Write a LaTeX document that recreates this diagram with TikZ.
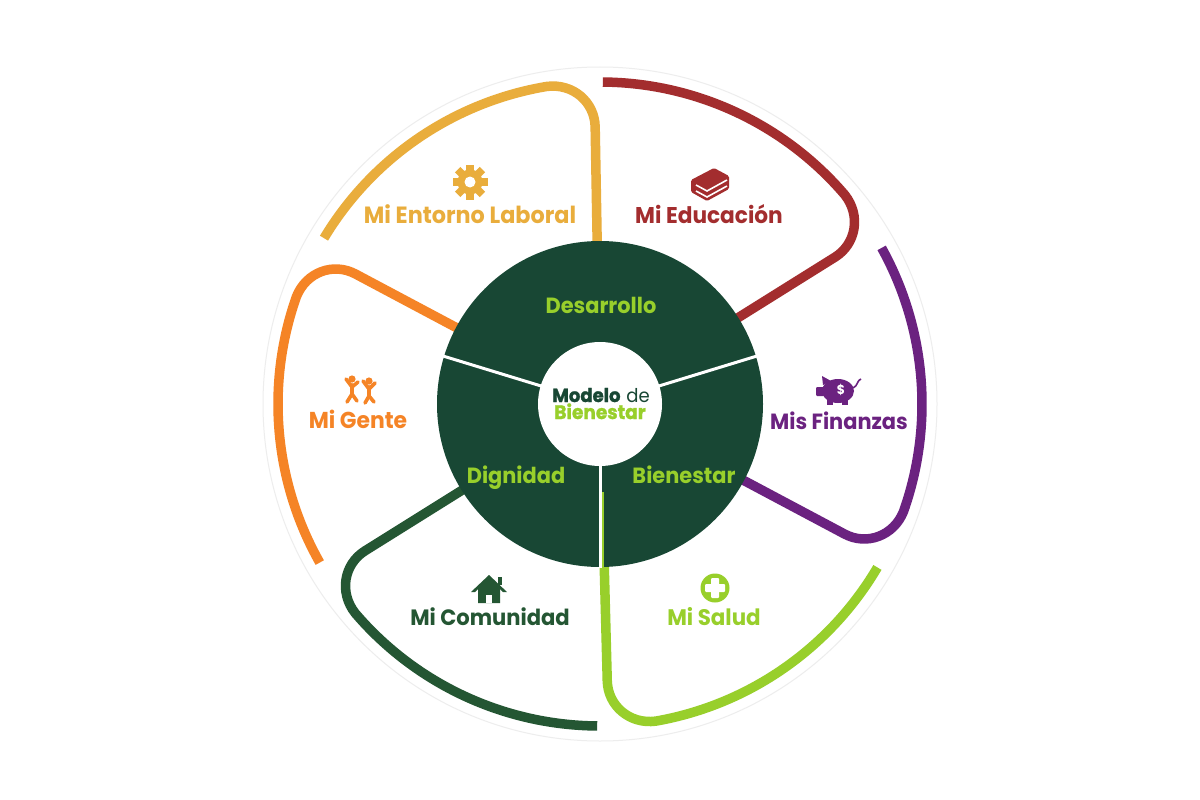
\documentclass[tikz,border=0pt]{standalone}
\usepackage{fontspec}
\newfontfamily\lbl{Poppins}[FakeStretch=0.95]
\newfontfamily\lblheavy{Poppins}[FakeStretch=0.95, FakeBold=1.3]
\definecolor{cR}{HTML}{A32D2E}
\definecolor{cY}{HTML}{E9AD3C}
\definecolor{cO}{HTML}{F58426}
\definecolor{cD}{HTML}{245633}
\definecolor{cL}{HTML}{98CF2B}
\definecolor{cP}{HTML}{6B2280}
\definecolor{cG}{HTML}{184734}
\tikzset{
  petal/.style={line width=9.5pt},
  lab/.style={font=\lbl\bfseries\fontsize{#1}{#1}\selectfont, anchor=base, inner sep=0pt},
  lab/.default=23,
  inlab/.style={font=\lbl\bfseries\fontsize{22}{22}\selectfont, anchor=base, inner sep=0pt, text=cL},
  divider/.style={white, line width=3pt},
}
\begin{document}
\begin{tikzpicture}[x=1pt,y=-1pt]
\useasboundingbox (0,0) rectangle (1200,800);
\fill[white] (0,0) rectangle (1200,800);
\coordinate (C) at (600,404);
% outer disk
\fill[white, draw=black!7, line width=1pt] (C) circle (337);
% petals
\foreach \col/\t/\e in {cR/32/89.5, cY/91/149, cO/152/209.5, cD/212/269.5, cL/271.5/329.5, cP/332/389}
  \draw[petal, draw=\col, shift={(C)}] (-\t:140) -- (-\t:277) .. controls (-\t:302) and ({-\t-3.8}:322) .. ({-\t-8.5}:322) arc[start angle={-\t-8.5}, end angle={-\e}, radius=322];
% central disk
\fill[cG] (C) circle (163);
\foreach \a in {163,17}
  \draw[divider, shift={(C)}] (-\a:55) -- (-\a:164);
\draw[divider] (600,460) -- (600,567.5);
\draw[cL, line width=2.6pt] (603,492) -- (603,567);
\fill[white] (C) circle (62);
% labels
\node[lab=23.5, text=cY] (entorno) at (470,223) {Mi Entorno Laboral};
\node[lab=22.8, text=cR] (educ) at (709,223) {Mi Educación};
\node[lab=23, text=cO] (gente) at (358,428) {Mi Gente};
\node[lab=22, text=cP] (finanzas) at (839,429) {Mis Finanzas};
\node[lab=22.2, text=cD] (comunidad) at (490,625) {Mi Comunidad};
\node[lab=22.5, text=cL] (salud) at (714,625) {Mi Salud};
\node[inlab] (desarrollo) at (601,313) {Desarrollo};
\node[inlab] (dignidad) at (516,483) {Dignidad};
\node[inlab] (bienestar) at (684,483) {Bienestar};
\node[font=\fontsize{19}{19}\selectfont, anchor=base, inner sep=0pt, text=cG] (modelo) at (601,402) {{\lblheavy\bfseries Modelo} {\lbl de}};
\node[font=\lblheavy\bfseries\fontsize{19.5}{19.5}\selectfont, anchor=base, inner sep=0pt, text=cL] (bien2) at (600,419) {Bienestar};
% gear icon
\fill[cY] (470,182) circle (12.5);
\foreach \a in {0,45,...,315}
  \fill[cY, rotate around={\a:(470,182)}] (466.2,182) rectangle (473.8,164.5);
\fill[white] (470,182) circle (5.5);
% book icon
\fill[cR, rounded corners=1.5pt] (691,180) -- (714,168) -- (729,176) -- (729,189) -- (707,201) -- (691,192) -- cycle;
\draw[white, line width=1.6pt] (696,185) -- (707,191) -- (727,180);
\draw[white, line width=1.6pt] (696,191) -- (707,197) -- (727,186);
% dancers icon
\begin{scope}[cO, line width=3.6pt, line cap=round]
  \fill (352,379) circle (3.6);
  \draw (352,385) -- (352,394);
  \draw (352,387) -- (346,379);
  \draw (352,387) -- (358,382);
  \draw (352,394) -- (347,402);
  \draw (352,394) -- (357,401);
  \fill (369,381) circle (3.6);
  \draw (369,387) -- (369,396);
  \draw (369,389) -- (363,381);
  \draw (369,389) -- (375,383);
  \draw (369,396) -- (365,403);
  \draw (369,396) -- (374,402);
\end{scope}
% piggy bank icon
\begin{scope}[cP]
  \fill (838,391) ellipse (16 and 12);
  \fill (822,376) -- (831,381) -- (823,385) -- cycle;
  \fill[rounded corners=1pt] (816,387) rectangle (824,396);
  \fill (827,398) rectangle (833,405);
  \fill (842,398) rectangle (848,405);
  \draw[line width=1.6pt] (853,388) .. controls (858,386) and (857,380) .. (861,379);
  \node[text=white, font=\lbl\bfseries\fontsize{13}{13}\selectfont, inner sep=0pt] (dollar) at (841,390) {\$};
\end{scope}
% house icon
\begin{scope}[cD]
  \fill (489,575) -- (507,592) -- (503,592) -- (489,579) -- (475,592) -- (471,592) -- cycle;
  \fill (498,577) rectangle (502,585);
  \fill (478,588) -- (489,578) -- (500,588) -- (500,603) -- (478,603) -- cycle;
  \fill[white] (486,595) rectangle (492,603);
\end{scope}
% health icon
\fill[cL] (715,588) circle (14.5);
\fill[white, rounded corners=1pt] (711,578) rectangle (719,598);
\fill[white, rounded corners=1pt] (705,584) rectangle (725,592);
\end{tikzpicture}
\end{document}
